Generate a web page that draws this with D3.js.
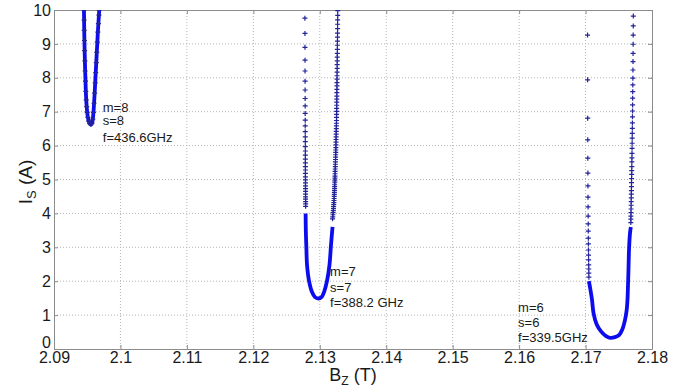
<!DOCTYPE html>
<html>
<head>
<meta charset="utf-8">
<script src="https://cdn.jsdelivr.net/npm/d3@7/dist/d3.min.js"></script>
<style>
    body { margin: 0; background: #fff; }
    svg text { font-family: Arial, "Liberation Sans", sans-serif; fill: #1a1a1a; }
</style>
</head>
<body>
<svg id="chart"></svg>
<script>

// tick values
const xTicks = [2.09, 2.1, 2.11, 2.12, 2.13, 2.14, 2.15, 2.16, 2.17, 2.18];
const yTicks = [0, 1, 2, 3, 4, 5, 6, 7, 8, 9, 10];

// m=8 curve (dense everywhere): Bz (T), Is (A)
const m8B = [2.09451, 2.09453, 2.09455, 2.09458, 2.09461, 2.09465, 2.09469, 2.09474, 2.09479, 2.09485,
    2.09492, 2.09500, 2.09510, 2.09522, 2.09538, 2.09555, 2.09572, 2.09584, 2.09594, 2.09603,
    2.09612, 2.09620, 2.09628, 2.09636, 2.09644, 2.09652, 2.09660, 2.09668, 2.09676, 2.09681];
const m8I = [10.0, 9.7, 9.4, 9.1, 8.8, 8.5, 8.2, 7.9, 7.6, 7.35,
    7.15, 6.98, 6.83, 6.72, 6.65, 6.62, 6.66, 6.78, 6.98, 7.25,
    7.55, 7.85, 8.15, 8.45, 8.75, 9.05, 9.35, 9.6, 9.85, 10.0];

// m=7 curve
const m7LeftB = [2.12776, 2.12777, 2.12777, 2.12778, 2.12778, 2.12779, 2.12779, 2.12780, 2.12780, 2.12780,
    2.12781, 2.12781, 2.12781, 2.12782, 2.12782, 2.12782, 2.12783, 2.12783, 2.12783, 2.12783,
    2.12784, 2.12784, 2.12784, 2.12784, 2.12785, 2.12785, 2.12785, 2.12785, 2.12786, 2.12786,
    2.12786, 2.12786, 2.12787, 2.12787, 2.12787];
const m7LeftI = [9.76, 9.31, 8.90, 8.52, 8.20, 7.90, 7.64, 7.39, 7.17, 6.95,
    6.75, 6.58, 6.41, 6.26, 6.12, 5.97, 5.84, 5.72, 5.60, 5.49,
    5.38, 5.28, 5.18, 5.08, 4.99, 4.90, 4.81, 4.73, 4.65, 4.57,
    4.49, 4.42, 4.35, 4.28, 4.21];
const m7CoreB = [2.12787, 2.12790, 2.12798, 2.12808, 2.12838, 2.12883, 2.12928, 2.12978,
    2.13026, 2.13064, 2.13109, 2.13146, 2.13169, 2.13192];
const m7CoreI = [4.0, 3.5, 3.0, 2.48, 2.01, 1.68, 1.53, 1.49,
    1.53, 1.68, 2.01, 2.48, 3.07, 3.6];
const m7RightB = [2.13192, 2.13195, 2.13198, 2.13201, 2.13204, 2.13206, 2.13208, 2.13210, 2.13212, 2.13214,
    2.13216, 2.13218, 2.13219, 2.13220, 2.13222, 2.13223, 2.13224, 2.13225, 2.13226, 2.13227,
    2.13228, 2.13229, 2.13230, 2.13231, 2.13232, 2.13234, 2.13235, 2.13236, 2.13237, 2.13238,
    2.13239, 2.13240, 2.13241, 2.13242, 2.13243, 2.13244, 2.13245, 2.13246, 2.13247, 2.13248,
    2.13249, 2.13250, 2.13251, 2.13252, 2.13252, 2.13253, 2.13254, 2.13254, 2.13255, 2.13255,
    2.13256, 2.13257, 2.13257, 2.13258, 2.13259, 2.13259, 2.13260, 2.13260, 2.13261, 2.13262,
    2.13262, 2.13263, 2.13263, 2.13264, 2.13265, 2.13265, 2.13266, 2.13267, 2.13267, 2.13268,
    2.13268, 2.13269, 2.13270, 2.13270];
const m7RightI = [3.84, 3.90, 3.96, 4.02, 4.08, 4.14, 4.20, 4.26, 4.32, 4.38,
    4.44, 4.50, 4.56, 4.62, 4.68, 4.74, 4.80, 4.86, 4.92, 4.98,
    5.04, 5.10, 5.17, 5.24, 5.31, 5.38, 5.45, 5.52, 5.59, 5.66,
    5.73, 5.80, 5.87, 5.94, 6.02, 6.10, 6.18, 6.26, 6.34, 6.42,
    6.50, 6.58, 6.66, 6.74, 6.83, 6.92, 7.01, 7.10, 7.19, 7.28,
    7.37, 7.46, 7.56, 7.66, 7.76, 7.86, 7.96, 8.06, 8.17, 8.28,
    8.39, 8.50, 8.61, 8.72, 8.84, 8.96, 9.08, 9.20, 9.32, 9.45,
    9.58, 9.71, 9.84, 9.98];

// m=6 curve
const m6LeftB = [2.17030, 2.17031, 2.17032, 2.17033, 2.17034, 2.17035, 2.17036, 2.17037, 2.17038, 2.17039,
    2.17040, 2.17041, 2.17042, 2.17043, 2.17044, 2.17045, 2.17046, 2.17047, 2.17048, 2.17049, 2.17050];
const m6LeftI = [9.26, 7.94, 6.81, 6.17, 5.63, 5.19, 4.81, 4.48, 4.19, 3.92,
    3.69, 3.48, 3.27, 3.10, 2.92, 2.77, 2.63, 2.48, 2.36, 2.24, 2.12];
const m6CoreB = [2.17050, 2.17074, 2.17097, 2.17120, 2.17165, 2.17233, 2.17308, 2.17368, 2.17443, 2.17504,
    2.17556, 2.17594, 2.17619, 2.17631, 2.17639, 2.17646, 2.17654, 2.17668, 2.17681];
const m6CoreI = [2.0, 1.74, 1.45, 1.06, 0.74, 0.52, 0.38, 0.33, 0.35, 0.41,
    0.59, 0.86, 1.15, 1.45, 1.89, 2.33, 2.92, 3.40, 3.60];
const m6RightB = [2.17681, 2.17682, 2.17683, 2.17684, 2.17685, 2.17686, 2.17687, 2.17688, 2.17689, 2.17690,
    2.17691, 2.17692, 2.17693, 2.17694, 2.17695, 2.17696, 2.17697, 2.17698, 2.17699, 2.17700,
    2.17701, 2.17702, 2.17703, 2.17704, 2.17705, 2.17706, 2.17707, 2.17708, 2.17709, 2.17710,
    2.17711, 2.17712, 2.17713, 2.17714, 2.17715, 2.17716, 2.17717, 2.17718, 2.17719];
const m6RightI = [3.73, 3.83, 3.92, 4.02, 4.13, 4.24, 4.35, 4.46, 4.57, 4.67,
    4.79, 4.91, 5.03, 5.15, 5.26, 5.38, 5.52, 5.64, 5.77, 5.92,
    6.07, 6.22, 6.36, 6.51, 6.67, 6.85, 7.02, 7.20, 7.40, 7.59,
    7.79, 7.99, 8.23, 8.48, 8.72, 8.99, 9.26, 9.53, 9.82];

// mode annotations
const modeLabels = [
    {B: 2.09734, I: [7.0, 6.6, 6.1], lines: ['m=8', 's=8', 'f=436.6GHz']},
    {B: 2.13155, I: [2.14, 1.68, 1.23], lines: ['m=7', 's=7', 'f=388.2 GHz']},
    {B: 2.15985, I: [1.08, 0.64, 0.22], lines: ['m=6', 's=6', 'f=339.5GHz']}
];

class ResonancePlot {

    constructor(_config) {
        this.config = {
            parentElement: _config.parentElement,
            containerWidth: _config.containerWidth || 699,
            containerHeight: _config.containerHeight || 388
        };
        this.config.margin = _config.margin || {top: 10, right: 47, bottom: 39, left: 54};
        this.initVis();
    }

    initVis() {
        let vis = this;
        vis.svg = d3.select(vis.config.parentElement)
            .attr('width', vis.config.containerWidth)
            .attr('height', vis.config.containerHeight);

        vis.width = vis.config.containerWidth - vis.config.margin.left - vis.config.margin.right;
        vis.height = vis.config.containerHeight - vis.config.margin.top - vis.config.margin.bottom;

        vis.chart = vis.svg.append('g')
            .attr('transform', `translate(${vis.config.margin.left},${vis.config.margin.top})`);

        vis.xScale = d3.scaleLinear().domain([2.09, 2.18]).range([0, vis.width]);
        vis.yScale = d3.scaleLinear().domain([0, 10]).range([vis.height, 0]);

        vis.svg.append('defs').append('clipPath').attr('id', 'plot-clip')
            .append('rect').attr('width', vis.width).attr('height', vis.height);

        vis.renderGrid();
        vis.renderAxes();
        vis.renderCurves();
        vis.renderLabels();
    }

    renderGrid() {
        let vis = this;
        let grid = vis.chart.append('g').attr('class', 'grid');

        grid.selectAll('.vgrid')
            .data(xTicks.slice(1, -1))
            .join('line')
            .attr('x1', d => vis.xScale(d)).attr('x2', d => vis.xScale(d))
            .attr('y1', 0).attr('y2', vis.height);

        grid.selectAll('.hgrid')
            .data(yTicks.slice(1, -1))
            .join('line')
            .attr('y1', d => vis.yScale(d)).attr('y2', d => vis.yScale(d))
            .attr('x1', 0).attr('x2', vis.width);

        grid.selectAll('line')
            .attr('stroke', '#b4b4b4')
            .attr('stroke-width', 1)
            .attr('stroke-dasharray', '1,2');
    }

    renderAxes() {
        let vis = this;

        vis.chart.append('g')
            .attr('transform', `translate(0,${vis.height})`)
            .call(d3.axisBottom(vis.xScale).tickValues(xTicks).tickFormat(d3.format('')).tickSize(-4).tickSizeOuter(0).tickPadding(3));

        vis.yAxisG = vis.chart.append('g')
            .call(d3.axisLeft(vis.yScale).tickValues(yTicks).tickSize(-4).tickSizeOuter(0).tickPadding(3));
        // matlab nudges the bottom label up off the corner
        vis.yAxisG.selectAll('.tick text').filter(d => d === 0).attr('y', -7);

        vis.chart.append('g')
            .call(d3.axisTop(vis.xScale).tickValues(xTicks).tickFormat('').tickSize(-4).tickSizeOuter(0));

        vis.chart.append('g')
            .attr('transform', `translate(${vis.width},0)`)
            .call(d3.axisRight(vis.yScale).tickValues(yTicks).tickFormat('').tickSize(-4).tickSizeOuter(0));

        vis.chart.selectAll('.domain, .tick line')
            .attr('stroke', '#8c8c8c');
        vis.chart.selectAll('.tick text')
            .attr('fill', '#1a1a1a')
            .style('font-size', '16px');

        // axis titles
        vis.svg.append('text')
            .attr('transform', 'translate(32,182) rotate(-90)')
            .attr('text-anchor', 'middle')
            .style('font-size', '19px')
            .call(t => {
                t.append('tspan').text('I');
                t.append('tspan').text('S').attr('dy', 4).style('font-size', '13px');
                t.append('tspan').text(' (A)').attr('dy', -4);
            });

        vis.svg.append('text')
            .attr('x', vis.config.margin.left + vis.width / 2)
            .attr('y', 381)
            .attr('text-anchor', 'middle')
            .style('font-size', '18px')
            .call(t => {
                t.append('tspan').text('B');
                t.append('tspan').text('Z').attr('dy', 4).style('font-size', '12px');
                t.append('tspan').text(' (T)').attr('dy', -4);
            });
    }

    renderCurves() {
        let vis = this;
        let plot = vis.chart.append('g').attr('clip-path', 'url(#plot-clip)');

        let line = d3.line()
            .x(d => vis.xScale(d[0]))
            .y(d => vis.yScale(d[1]))
            .curve(d3.curveCatmullRom);

        let cores = [d3.zip(m8B, m8I), d3.zip(m7CoreB, m7CoreI), d3.zip(m6CoreB, m6CoreI)];
        plot.selectAll('.core')
            .data(cores)
            .join('path')
            .attr('class', 'core')
            .attr('d', line)
            .attr('fill', 'none')
            .attr('stroke', '#0c0cee')
            .attr('stroke-width', 3.8)
            .attr('stroke-linejoin', 'round');

        let markers = [].concat(
            d3.zip(m8B, m8I),
            d3.zip(m7LeftB, m7LeftI), d3.zip(m7RightB, m7RightI),
            d3.zip(m6LeftB, m6LeftI), d3.zip(m6RightB, m6RightI)
        );
        plot.selectAll('.marker')
            .data(markers)
            .join('path')
            .attr('class', 'marker')
            .attr('transform', d => `translate(${vis.xScale(d[0])},${vis.yScale(d[1])})`)
            .attr('d', 'M-2.5,0H2.5M0,-2.5V2.5')
            .attr('stroke', '#23239a')
            .attr('stroke-width', 1.2);
    }

    renderLabels() {
        let vis = this;
        modeLabels.forEach(m => {
            vis.chart.append('g')
                .selectAll('text')
                .data(m.lines)
                .join('text')
                .attr('x', vis.xScale(m.B))
                .attr('y', (d, i) => vis.yScale(m.I[i]))
                .style('font-size', '13px')
                .text(d => d);
        });
    }
}

new ResonancePlot({parentElement: '#chart'});

</script>
</body>
</html>
